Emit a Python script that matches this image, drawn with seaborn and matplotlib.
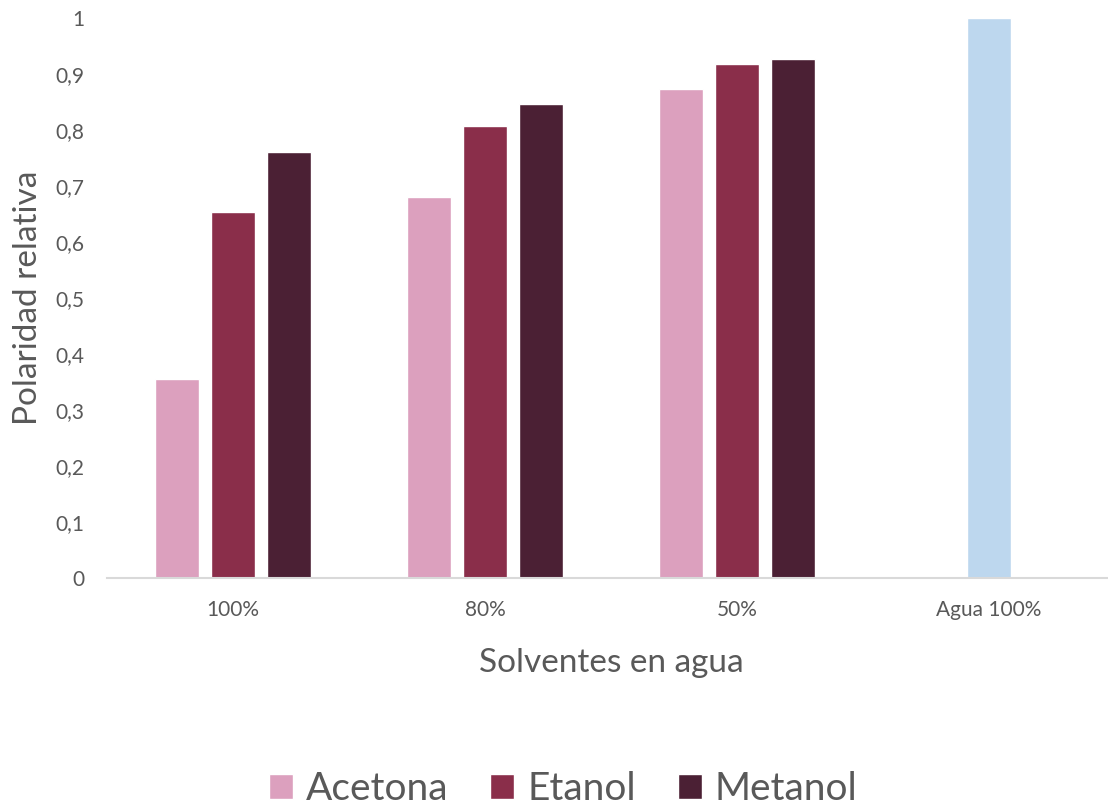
import numpy as np
import pandas as pd
import matplotlib
matplotlib.use("Agg")
import matplotlib.pyplot as plt
import seaborn as sns

categories = ["100%", "80%", "50%", "Agua 100%"]
series = ["Acetona", "Etanol", "Metanol"]
acetona = [0.355, 0.680, 0.873, np.nan]
etanol = [0.654, 0.807, 0.918, 1.0]
metanol = [0.761, 0.846, 0.927, np.nan]
y_ticks = [0, 0.1, 0.2, 0.3, 0.4, 0.5, 0.6, 0.7, 0.8, 0.9, 1.0]
y_tick_labels = ["0", "0,1", "0,2", "0,3", "0,4", "0,5", "0,6", "0,7", "0,8", "0,9", "1"]

colors = ["#DCA0BE", "#8A2E4A", "#4B2034"]
agua_color = "#BDD7EE"
text_color = "#595959"

sns.set_theme(style="white")
plt.rcParams["font.family"] = ["Lato", "DejaVu Sans"]

rows = []
for name, vals in zip(series, [acetona, etanol, metanol]):
    for c, v in zip(categories, vals):
        rows.append({"cat": c, "serie": name, "val": v})
df = pd.DataFrame(rows)

fig = plt.figure(figsize=(11.08, 8.06), dpi=100)
ax = fig.add_axes([107 / 1108, 228 / 806, 1 - 107 / 1108, 560 / 806])

sns.barplot(data=df, x="cat", y="val", hue="serie", order=categories,
            hue_order=series, palette=colors, width=0.667, gap=0.21,
            saturation=1, ax=ax, legend=True)

# Agua bar (Etanol series, last category) is light blue
for p in ax.containers[1]:
    if abs(p.get_height() - 1.0) < 1e-9:
        p.set_facecolor(agua_color)

ax.set_ylim(0, 1)
ax.set_xlim(-0.5, 3.5 - 7 / 252)
ax.set_yticks(y_ticks)
ax.set_yticklabels(y_tick_labels)
ax.tick_params(axis="both", length=0, colors=text_color, labelsize=15)
ax.tick_params(axis="y", pad=16.5)
ax.tick_params(axis="x", pad=16)
for s in ["top", "right", "left"]:
    ax.spines[s].set_visible(False)
ax.spines["bottom"].set_color("#D9D9D9")
ax.spines["bottom"].set_linewidth(1.5)

ax.set_xlabel("Solventes en agua", fontsize=24, color=text_color)
ax.set_ylabel("Polaridad relativa", fontsize=24, color=text_color)
ax.xaxis.label.set_va("center")
ax.yaxis.label.set_va("center")
ax.xaxis.set_label_coords(0.5035, -0.152)
ax.yaxis.set_label_coords(-0.079, 0.5)

handles, labels = ax.get_legend_handles_labels()
ax.get_legend().remove()
fig.legend(handles[:3], labels[:3], loc="center", bbox_to_anchor=(563 / 1108, 1 - 789 / 806),
           ncol=3, frameon=False, fontsize=28, labelcolor=text_color,
           handlelength=0.62, handleheight=0.62, handletextpad=0.33, columnspacing=1.08)

fig.savefig("out.png", dpi=100)
